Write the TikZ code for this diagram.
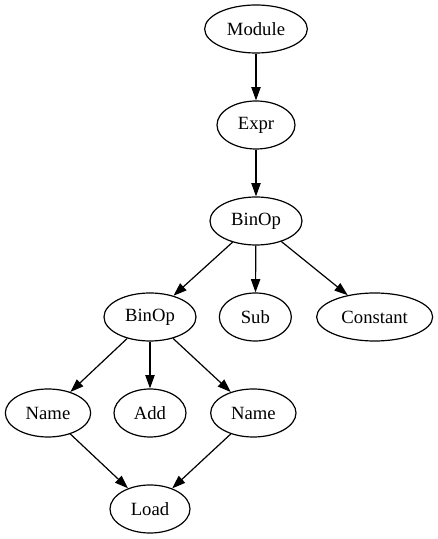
\documentclass[tikz,border=0pt]{standalone}
\usepackage{fontspec}
\setmainfont{Liberation Serif}
\usetikzlibrary{shapes.geometric,arrows.meta}
\begin{document}
\begin{tikzpicture}[x=1pt,y=1pt,
  nd/.style={ellipse,draw,line width=0.9pt,inner sep=0pt,minimum height=36pt,font=\fontsize{14}{16}\selectfont},
  ed/.style={line width=0.9pt,-{Triangle[length=10pt,width=7pt]}}]
\useasboundingbox (0,0) rectangle (328.5,404.25);
\node[nd,minimum width=77pt] (module) at (192,382.5) {Module};
\node[nd,minimum width=58.5pt] (expr) at (192,310.5) {Expr};
\node[nd,minimum width=69pt] (binop1) at (192,238.5) {BinOp};
\node[nd,minimum width=69pt] (binop2) at (112.5,166.5) {BinOp};
\node[nd,minimum width=54pt] (sub) at (191.5,166.5) {Sub};
\node[nd,minimum width=87pt] (const) at (281,166.5) {Constant};
\node[nd,minimum width=64pt] (name1) at (36,94.5) {Name};
\node[nd,minimum width=54pt] (add) at (112.5,94.5) {Add};
\node[nd,minimum width=64pt] (name2) at (190,94.5) {Name};
\node[nd,minimum width=60pt] (load) at (112.5,22.5) {Load};
\draw[ed] (module) -- (expr);
\draw[ed] (expr) -- (binop1);
\draw[ed] (binop1) -- (binop2);
\draw[ed] (binop1) -- (sub);
\draw[ed] (binop1) -- (const);
\draw[ed] (binop2) -- (name1);
\draw[ed] (binop2) -- (add);
\draw[ed] (binop2) -- (name2);
\draw[ed] (name1) -- (load);
\draw[ed] (name2) -- (load);
\end{tikzpicture}
\end{document}
